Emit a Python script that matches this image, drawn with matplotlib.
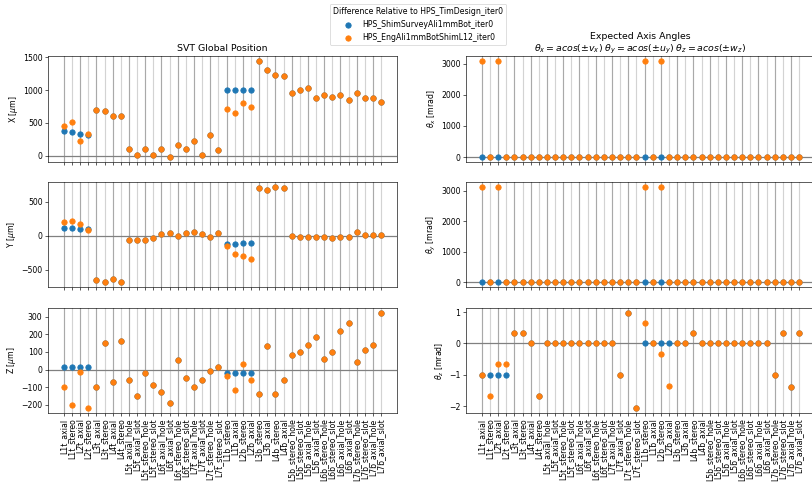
import matplotlib
matplotlib.use("Agg")
import matplotlib.pyplot as plt
import numpy as np

labels = ["L1t_axial", "L1t_stereo", "L2t_axial", "L2t_stereo", "L3t_axial", "L3t_stereo",
          "L4t_axial", "L4t_stereo", "L5t_axial_hole", "L5t_axial_slot", "L5t_stereo_hole",
          "L5t_stereo_slot", "L6t_axial_hole", "L6t_axial_slot", "L6t_stereo_hole",
          "L6t_stereo_slot", "L7t_axial_hole", "L7t_axial_slot", "L7t_stereo_hole",
          "L7t_stereo_slot", "L1b_stereo", "L1b_axial", "L2b_stereo", "L2b_axial",
          "L3b_stereo", "L3b_axial", "L4b_stereo", "L4b_axial", "L5b_stereo_hole",
          "L5b_stereo_slot", "L5b_axial_hole", "L5b_axial_slot", "L6b_stereo_hole",
          "L6b_stereo_slot", "L6b_axial_hole", "L6b_axial_slot", "L7b_stereo_hole",
          "L7b_stereo_slot", "L7b_axial_hole", "L7b_axial_slot"]

series_names = ["HPS_ShimSurveyAli1mmBot_iter0", "HPS_EngAli1mmBotShimL12_iter0"]
legend_title = "Difference Relative to HPS_TimDesign_iter0"

# Orange series (EngAli1mmBotShimL12)
eng_x = [458, 508, 219, 336, 697, 676, 610, 610, 97, 20, 97, 20, 97, -20, 158, 97, 229, 20, 310, 92,
         707, 646, 808, 747, 1444, 1307, 1225, 1210, 951, 1002, 1027, 880, 930, 890, 920, 849, 961, 885, 880, 814]
eng_y = [199, 223, 180, 83, -641, -680, -631, -670, -68, -68, -68, -34, 24, 34, -5, 34, 49, 24, -24, 39,
         -146, -262, -291, -345, 704, 670, 718, 699, 0, -19, -24, -15, -15, -39, -15, -19, 53, 10, 15, 5]
eng_z = [-96, -201, -13, -219, -99, 152, -69, 161, -60, -148, -21, -88, -129, -188, 52, -49, -98, -58, -9, 13,
         -39, -118, 30, -58, -139, 131, -139, -58, 81, 101, 141, 182, 62, 101, 221, 262, 41, 111, 142, 322]
eng_tx = [3086, 0, 3086, 0, 0, 0, 0, 0, 0, 0, 0, 0, 0, 0, 0, 0, 0, 0, 0, 0,
          3086, 0, 3086, 0, 0, 0, 0, 0, 0, 0, 0, 0, 0, 0, 0, 0, 0, 0, 0, 0]
eng_ty = [3125, 0, 3125, 0, 0, 0, 0, 0, 0, 0, 0, 0, 0, 0, 0, 0, 0, 0, 0, 0,
          3125, 0, 3125, 0, 0, 0, 0, 0, 0, 0, 0, 0, 0, 0, 0, 0, 0, 0, 0, 0]
eng_tz = [-1.0, -1.68, -0.66, -0.66, 0.33, 0.33, 0, -1.68, 0, 0, 0, 0, 0, 0, 0, 0, 0, -1.02, 0.98, -2.07,
          0.66, 0, -0.34, -1.37, 0, 0, 0.33, 0, 0, 0, 0, 0, 0, 0, 0, 0, -1.02, 0.33, -1.40, 0.33]

# Blue series (ShimSurveyAli1mmBot)
shim_x = [376, 366, 325, 315] + eng_x[4:20] + [1000, 1000, 1000, 1000] + eng_x[24:]
shim_y = [112, 112, 97, 97] + eng_y[4:20] + [-125, -121, -112, -112] + eng_y[24:]
shim_z = [17, 17, 17, 17] + eng_z[4:20] + [-19, -19, -19, -19] + eng_z[24:]
shim_tx = [0] * 40
shim_ty = [0] * 40
shim_tz = [-1.0, -1.0, -1.0, -1.0] + eng_tz[4:20] + [0, 0, 0, 0] + eng_tz[24:]

left_data = [(shim_x, eng_x, r"X [$\mu$m]"), (shim_y, eng_y, r"Y [$\mu$m]"), (shim_z, eng_z, r"Z [$\mu$m]")]
right_data = [(shim_tx, eng_tx, r"$\theta_x$ [mrad]"), (shim_ty, eng_ty, r"$\theta_y$ [mrad]"),
              (shim_tz, eng_tz, r"$\theta_z$ [mrad]")]

DPI = 56
fig = plt.figure(figsize=(812 / DPI, 486 / DPI), dpi=DPI)

W, H = 812.0, 486.0
rows = [(56, 162), (182, 287), (308, 413)]
cols = [48, 466]
aw = 349

xs = np.arange(len(labels))
axes = {}
for ci, (cx, data) in enumerate(zip(cols, [left_data, right_data])):
    for ri, ((top, bot), (s_blue, s_orange, ylab)) in enumerate(zip(rows, data)):
        ax = fig.add_axes([cx / W, 1 - bot / H, aw / W, (bot - top) / H])
        for i in xs:
            ax.axvline(i, color="darkgray" if i % 2 == 0 else "lightgray", lw=1.5, zorder=0)
        ax.axhline(0, color="gray", lw=1.6, zorder=1)
        h1 = ax.scatter(xs, s_blue, color="C0", s=48, zorder=3, label=series_names[0])
        h2 = ax.scatter(xs, s_orange, color="C1", s=48, zorder=4, label=series_names[1])
        ax.set_ylabel(ylab)
        ax.set_xticks(xs)
        if ri == 2:
            ax.set_xticklabels(labels, rotation=90)
        else:
            ax.set_xticklabels([])
        axes[(ri, ci)] = ax

axes[(0, 0)].set_title("SVT Global Position")
axes[(0, 1)].set_title("Expected Axis Angles\n"
                       r"$\theta_x = acos(\pm v_x)$ $\theta_y = acos(\pm u_y)$ $\theta_z = acos(\pm w_z)$")
axes[(0, 0)].set_yticks([0, 500, 1000, 1500])
axes[(2, 0)].set_yticks([-200, -100, 0, 100, 200, 300])

fig.legend([h1, h2], series_names, title=legend_title, loc="upper center",
           bbox_to_anchor=(418 / W, 1.0))

fig.savefig("out.png", dpi=DPI)
